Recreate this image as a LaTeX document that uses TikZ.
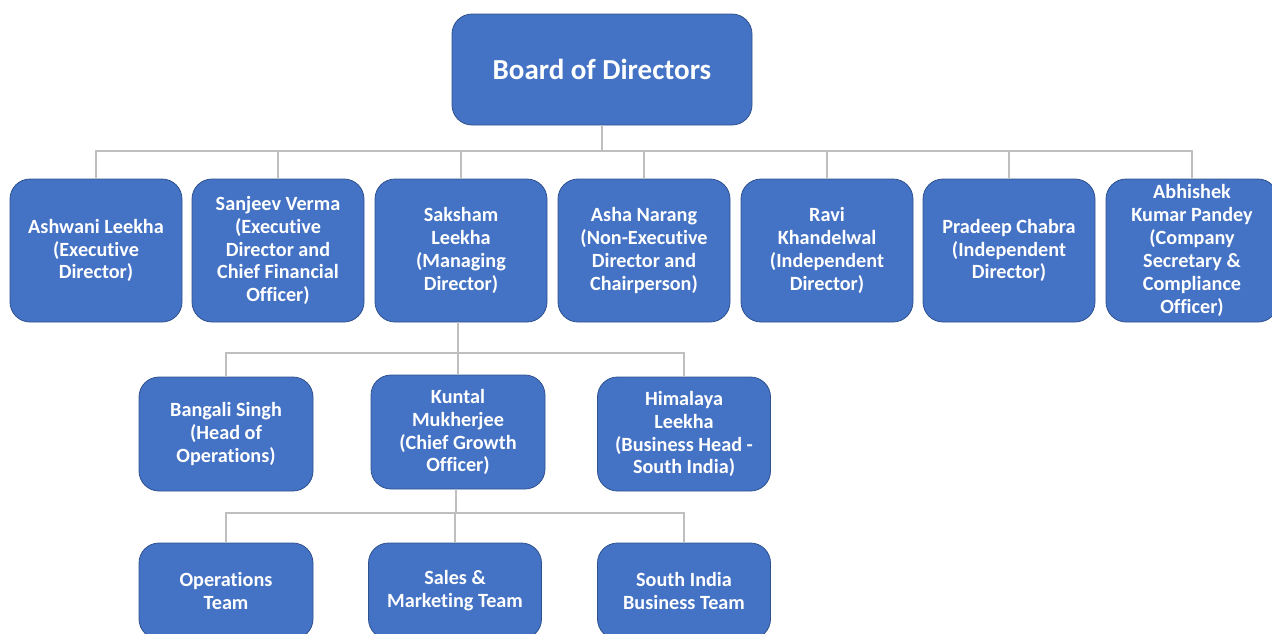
\documentclass[tikz,border=0pt]{standalone}
\usepackage{fontspec}
\setmainfont{Carlito}[Ligatures=NoCommon]
\definecolor{boxfill}{HTML}{4472C4}
\definecolor{boxedge}{HTML}{2F528F}
\definecolor{linegray}{HTML}{BFBFBF}
\tikzset{
  orgbox/.style={draw=boxedge, line width=0.8pt, fill=boxfill, rounded corners=20pt,
    text=white, align=center, inner sep=0pt, outer sep=0pt,
    font=\bfseries\fontsize{20.2}{22.9}\selectfont},
  conn/.style={draw=linegray, line width=2pt}
}
\begin{document}
\begin{tikzpicture}[x=1pt,y=-1pt]
\useasboundingbox (0,0) rectangle (1272,633);
% top
\node[orgbox, minimum width=300pt, minimum height=111pt, font=\bfseries\fontsize{29}{33}\selectfont] (board) at (602,69.5) {Board of Directors};
% row 1
\node[orgbox, minimum width=172pt, minimum height=143pt] (ashwani) at (96,250.5) {Ashwani Leekha\\(Executive\\Director)};
\node[orgbox, minimum width=172pt, minimum height=143pt] (sanjeev) at (278,250.5) {Sanjeev Verma\\(Executive\\Director and\\Chief Financial\\Officer)};
\node[orgbox, minimum width=172pt, minimum height=143pt] (saksham) at (461,250.5) {Saksham\\Leekha\\(Managing\\Director)};
\node[orgbox, minimum width=172pt, minimum height=143pt] (asha) at (644,250.5) {Asha Narang\\(Non-Executive\\Director and\\Chairperson)};
\node[orgbox, minimum width=172pt, minimum height=143pt] (ravi) at (827,250.5) {Ravi\\Khandelwal\\(Independent\\Director)};
\node[orgbox, minimum width=172pt, minimum height=143pt] (pradeep) at (1009,250.5) {Pradeep Chabra\\(Independent\\Director)};
\node[orgbox, minimum width=172pt, minimum height=143pt] (abhishek) at (1192,250.5) {Abhishek\\Kumar Pandey\\(Company\\Secretary \&\\Compliance\\Officer)};
% row 2
\node[orgbox, minimum width=174pt, minimum height=114pt] (bangali) at (226,434) {Bangali Singh\\(Head of\\Operations)};
\node[orgbox, minimum width=174pt, minimum height=114pt] (kuntal) at (458,432) {Kuntal\\Mukherjee\\(Chief Growth\\Officer)};
\node[orgbox, minimum width=173pt, minimum height=114pt] (himalaya) at (684,434) {Himalaya\\Leekha\\(Business Head -\\South India)};
% row 3
\node[orgbox, minimum width=174pt, minimum height=96pt] (ops) at (226,591) {Operations\\Team};
\node[orgbox, minimum width=173pt, minimum height=96pt] (sales) at (455,591) {Sales \&\\Marketing Team};
\node[orgbox, minimum width=173pt, minimum height=96pt] (south) at (684,591) {South India\\Business Team};
% connectors
\coordinate (busA) at (602,151);
\coordinate (busB) at (458,353);
\coordinate (busC) at (456,513);
\draw[conn] (board.south) -- (busA);
\foreach \n in {ashwani,sanjeev,saksham,asha,ravi,pradeep,abhishek}{
  \draw[conn] (\n.north) |- (busA);
}
\draw[conn] (saksham.south -| busB) -- (busB);
\foreach \n in {bangali,kuntal,himalaya}{
  \draw[conn] (\n.north) |- (busB);
}
\draw[conn] (kuntal.south -| busC) -- (busC);
\foreach \n in {ops,sales,south}{
  \draw[conn] (\n.north) |- (busC);
}
\end{tikzpicture}
\end{document}
